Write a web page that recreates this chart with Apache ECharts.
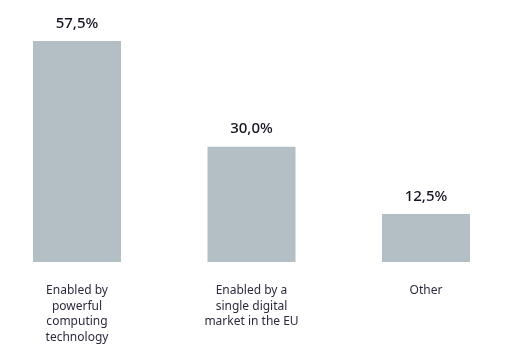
<!DOCTYPE html>
<html><head><meta charset="utf-8">
<script src="https://cdn.jsdelivr.net/npm/echarts@6/dist/echarts.min.js"></script>
<style>html,body{margin:0;padding:0;background:#fff}#c{width:527px;height:361px}</style>
</head><body><div id="c"></div>
<script>
const categories = ["Enabled by\npowerful\ncomputing\ntechnology", "Enabled by a\nsingle digital\nmarket in the EU", "Other"];
const values = [57.5, 30.0, 12.5];

const chart = echarts.init(document.getElementById('c'), null, {renderer: 'canvas'});
chart.setOption({
  animation: false,
  grid: {left: 77, right: 101, top: 31.4, bottom: 99, containLabel: false},
  xAxis: {
    type: 'category', data: categories, boundaryGap: false,
    axisLine: {show: false}, axisTick: {show: false}, splitLine: {show: false},
    axisLabel: {color: '#2d2a3e', fontFamily: 'Noto Sans', fontSize: 12, lineHeight: 15.5, margin: 21, interval: 0}
  },
  yAxis: {type: 'value', min: 0, max: 60, show: false},
  series: [{
    type: 'bar', data: values, barWidth: 88, clip: false,
    itemStyle: {color: '#b3bfc4'},
    label: {show: true, position: 'top', distance: 10, color: '#141422', fontFamily: 'Noto Sans', fontWeight: 500, fontSize: 15,
      formatter: p => p.value.toFixed(1).replace('.', ',') + '%'}
  }]
});
</script></body></html>
